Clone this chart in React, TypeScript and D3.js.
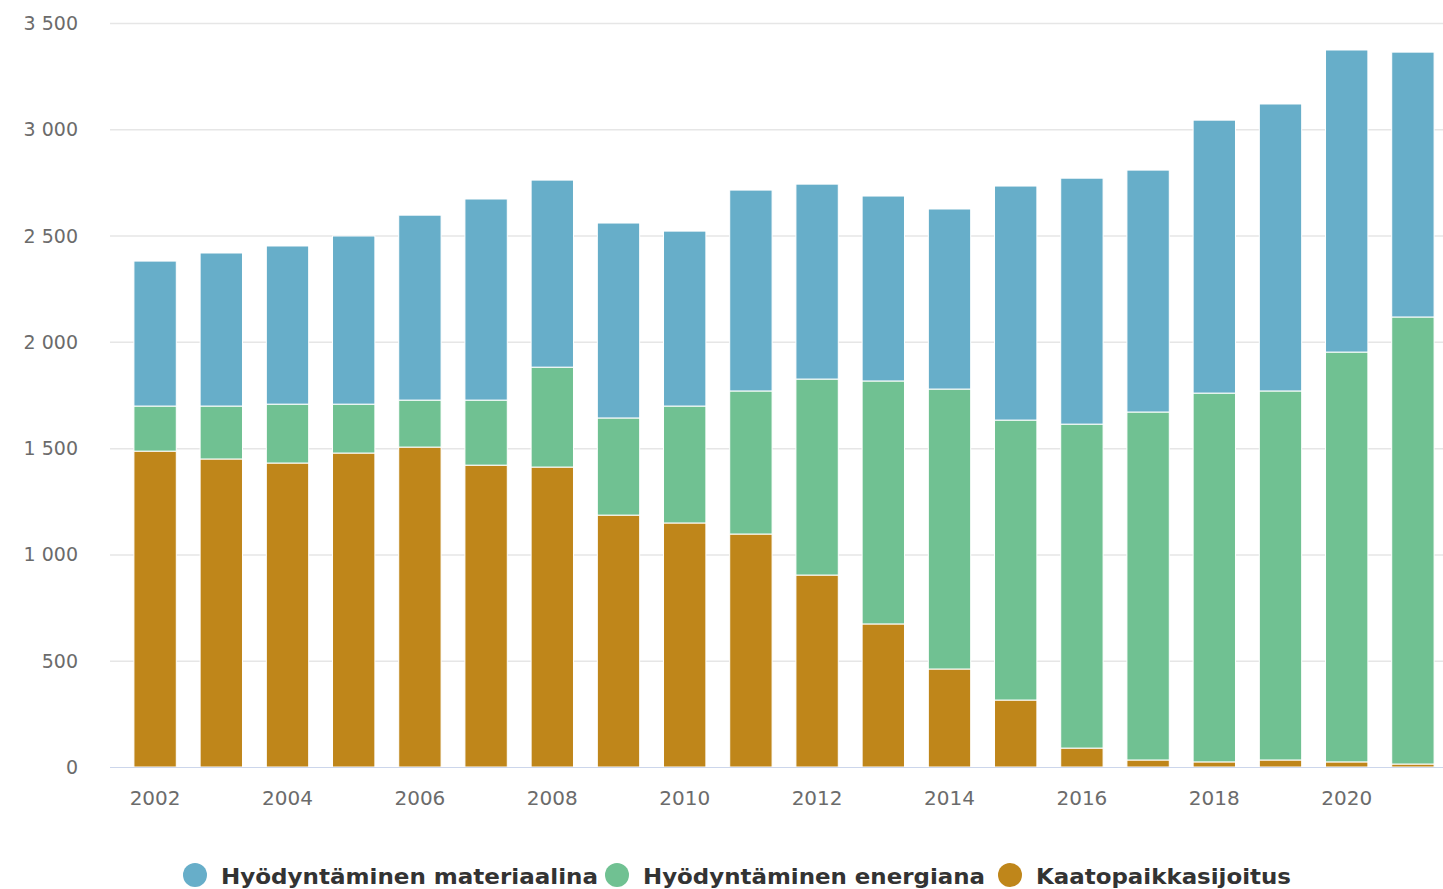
import * as d3 from "d3";
import { useEffect, useRef } from "react";

const YEARS: number[] = [
  2002, 2003, 2004, 2005, 2006, 2007, 2008, 2009, 2010, 2011, 2012, 2013, 2014,
  2015, 2016, 2017, 2018, 2019, 2020, 2021,
];
const LANDFILL: number[] = [
  1486, 1449, 1430, 1477, 1505, 1420, 1411, 1185, 1148, 1096, 903, 673, 461,
  315, 89, 33, 24, 33, 24, 14,
];
const ENERGY: number[] = [
  212, 249, 277, 230, 221, 306, 470, 457, 550, 673, 922, 1143, 1317, 1317,
  1524, 1637, 1735, 1736, 1928, 2103,
];
const MATERIAL: number[] = [
  682, 720, 744, 791, 870, 946, 880, 917, 823, 945, 917, 870, 847, 1101, 1157,
  1138, 1284, 1350, 1421, 1246,
];
const SERIES_NAMES = [
  "Hyödyntäminen materiaalina",
  "Hyödyntäminen energiana",
  "Kaatopaikkasijoitus",
];
const Y_TICKS: number[] = [0, 500, 1000, 1500, 2000, 2500, 3000, 3500];

const COLORS: Record<string, string> = {
  material: "#67aec9",
  energy: "#70c192",
  landfill: "#bf861a",
};

const W = 1443;
const H = 889;

export default function App() {
  const ref = useRef<SVGSVGElement | null>(null);

  useEffect(() => {
    if (!ref.current) return;
    const svg = d3.select(ref.current);
    svg.selectAll("*").remove();

    const x = d3
      .scaleBand<number>()
      .domain(YEARS)
      .range([122, 1446])
      .paddingInner(0.36)
      .paddingOuter(0.18);
    const y = d3.scaleLinear().domain([0, 3500]).range([767, 23]);

    const fmt = (v: number) => d3.format(",")(v).replace(/,/g, " ");

    // grid
    svg
      .append("g")
      .selectAll("line")
      .data(Y_TICKS.filter((t) => t > 0))
      .enter()
      .append("line")
      .attr("x1", 110)
      .attr("x2", W)
      .attr("y1", (d) => y(d) + 0.5)
      .attr("y2", (d) => y(d) + 0.5)
      .attr("stroke", "#e6e6e6")
      .attr("stroke-width", 1.5);

    svg
      .append("g")
      .selectAll("text")
      .data(Y_TICKS)
      .enter()
      .append("text")
      .attr("x", 78)
      .attr("y", (d) => y(d) + 7)
      .attr("text-anchor", "end")
      .attr("font-family", "'DejaVu Sans', sans-serif")
      .attr("font-size", 19)
      .attr("fill", "#6b6b6b")
      .text((d) => fmt(d));

    const rows = YEARS.map((yr, i) => ({
      year: yr,
      landfill: LANDFILL[i],
      energy: ENERGY[i],
      material: MATERIAL[i],
    }));
    const stack = d3
      .stack<(typeof rows)[number]>()
      .keys(["landfill", "energy", "material"]);
    const layers = stack(rows);

    const g = svg.append("g");
    layers.forEach((layer) => {
      g.append("g")
        .selectAll("rect")
        .data(layer)
        .enter()
        .append("rect")
        .attr("x", (d) => x(d.data.year)!)
        .attr("width", x.bandwidth())
        .attr("y", (d) => y(d[1]))
        .attr("height", (d) => Math.max(0, y(d[0]) - y(d[1])))
        .attr("fill", COLORS[layer.key])
        .attr("stroke", "#fff")
        .attr("stroke-width", 1);
    });

    // x axis line
    svg
      .append("line")
      .attr("x1", 110)
      .attr("x2", W)
      .attr("y1", 767.5)
      .attr("y2", 767.5)
      .attr("stroke", "#ccd6eb")
      .attr("stroke-width", 1);

    svg
      .append("g")
      .selectAll("text")
      .data(YEARS.filter((yr) => yr % 2 === 0))
      .enter()
      .append("text")
      .attr("x", (d) => x(d)! + x.bandwidth() / 2)
      .attr("y", 805)
      .attr("text-anchor", "middle")
      .attr("font-family", "'DejaVu Sans', sans-serif")
      .attr("font-size", 20)
      .attr("fill", "#6b6b6b")
      .text((d) => String(d));

    // legend
    const legendX = [195, 617, 1010];
    const legendLen = [377, 342, 255];
    const keys = ["material", "energy", "landfill"];
    const lg = svg.append("g");
    keys.forEach((k, i) => {
      lg.append("circle")
        .attr("cx", legendX[i])
        .attr("cy", 875)
        .attr("r", 12)
        .attr("fill", COLORS[k]);
      lg.append("text")
        .attr("x", legendX[i] + 26)
        .attr("y", 884)
        .attr("font-family", "'DejaVu Sans', sans-serif")
        .attr("font-weight", 700)
        .attr("font-size", 21)
        .attr("fill", "#333")
        .attr("textLength", legendLen[i])
        .attr("lengthAdjust", "spacingAndGlyphs")
        .text(SERIES_NAMES[i]);
    });
  }, []);

  return (
    <svg
      ref={ref}
      width={W}
      height={H}
      style={{ position: "absolute", left: 0, top: 0, background: "#fff" }}
    />
  );
}
